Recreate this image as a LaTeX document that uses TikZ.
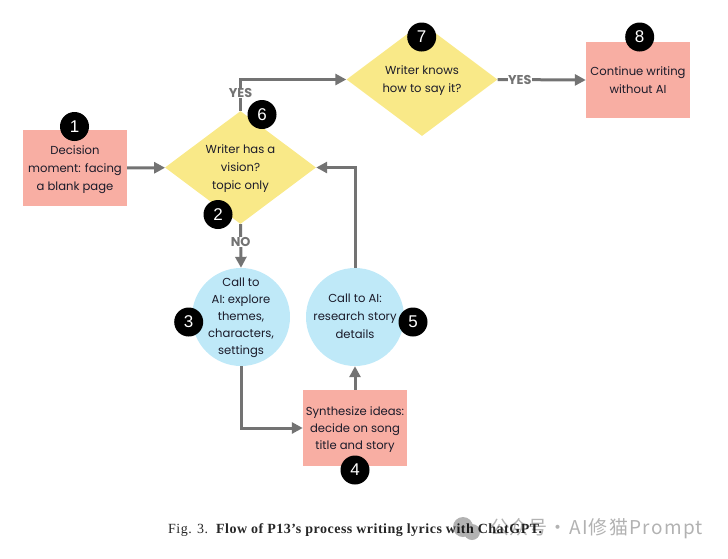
\documentclass[tikz,border=0pt]{standalone}
\usepackage{fontspec}
\setmainfont{Poppins}
\newfontfamily\badgefont{Liberation Sans}
\newfontfamily\captionfont[LetterSpace=3.5]{Liberation Serif}
\newfontfamily\markfont{Noto Sans CJK SC}
\newfontfamily\markwide[LetterSpace=7]{Noto Sans CJK SC}
\usetikzlibrary{shapes.geometric,arrows.meta}
\definecolor{boxred}{HTML}{F8AEA3}
\definecolor{dmdyellow}{HTML}{F9E988}
\definecolor{callblue}{HTML}{BFE9F8}
\definecolor{flowgray}{HTML}{737373}
\definecolor{inkdark}{HTML}{1B1B2A}
\tikzset{
    chart/.style={font=\fontsize{11.6}{18}\selectfont,text=inkdark,align=center,inner sep=0pt,text depth=0pt},
    actbox/.style={chart,rectangle,fill=boxred,minimum width=104pt,minimum height=76pt},
    choice/.style={chart,diamond,aspect=1.336,fill=dmdyellow,minimum width=151pt,minimum height=113pt},
    callai/.style={chart,circle,fill=callblue,inner sep=-4pt,minimum size=98pt,text depth=2pt,font=\fontsize{11.6}{17}\selectfont},
    badge/.style={circle,fill=black,text=white,inner sep=0pt,minimum size=29pt,font=\badgefont\fontsize{17}{17}\selectfont},
    flow/.style={draw=flowgray,line width=3pt,-{Triangle[length=11pt,width=11pt]}},
    answer/.style={fill=white,inner sep=0.4pt,text=flowgray,font=\fontsize{12.8}{13}\selectfont\bfseries}
}
\begin{document}
\begin{tikzpicture}[x=1pt,y=-1pt]
    \useasboundingbox (0,0) rectangle (728,558);
    % shapes
    \node[actbox] (decide) at (75,168) {Decision\\moment: facing\\a blank page};
    \node[choice] (vision) at (240.5,167.5) {Writer has a\\vision?\\topic only};
    \node[choice] (knows) at (422,79.5) {Writer knows\\how to say it?};
    \node[actbox] (goon) at (638,80) {Continue writing\\without AI};
    \node[callai] (explore) at (241,317) {Call to\\AI: explore\\themes,\\characters,\\settings};
    \node[callai,font=\fontsize{11.6}{18}\selectfont] (research) at (355,317) {Call to AI:\\research story\\details};
    \node[actbox,font=\fontsize{11.6}{17}\selectfont] (synth) at (355,428) {Synthesize ideas:\\decide on song\\title and story};
    % connectors
    \draw[flow] (decide) -- (vision);
    \draw[flow] (vision.north) |- (knows.west) node[answer,pos=0.285] {YES};
    \draw[flow] (knows.east) -- (goon.west) node[answer,pos=0.25] {YES};
    \draw[flow] (vision.south) -- (explore.north) node[answer,pos=0.4] {NO};
    \draw[flow] (explore.south) |- (synth.west);
    \draw[flow] (synth.north) -- (research.south);
    \draw[flow] (research.north) |- (vision.east);
    % numbers
    \foreach \num/\x/\y in {1/74.5/126.5,2/218/214.5,3/188.7/322,4/355/470,5/413/322,6/262/114.5,7/421.7/37,8/639.7/37}
        \node[badge] (badge\num) at (\x,\y) {\num};
    % caption and mark
    \node[anchor=west,inner sep=0pt,font=\captionfont\fontsize{14}{15}\selectfont,text=black!85] (caption) at (168,530) {Fig. 3.\ \ \textbf{Flow of P13’s process writing lyrics with ChatGPT.}};
    \fill[black,opacity=0.3] (463,527) circle (10) (472,532) circle (8);
    \node[anchor=west,inner sep=0pt,opacity=0.3,font=\markfont\fontsize{19}{20}\selectfont] (mark) at (490,529) {公众号\hspace{1pt}·\hspace{2pt}\markwide AI修猫Prompt};
\end{tikzpicture}
\end{document}
